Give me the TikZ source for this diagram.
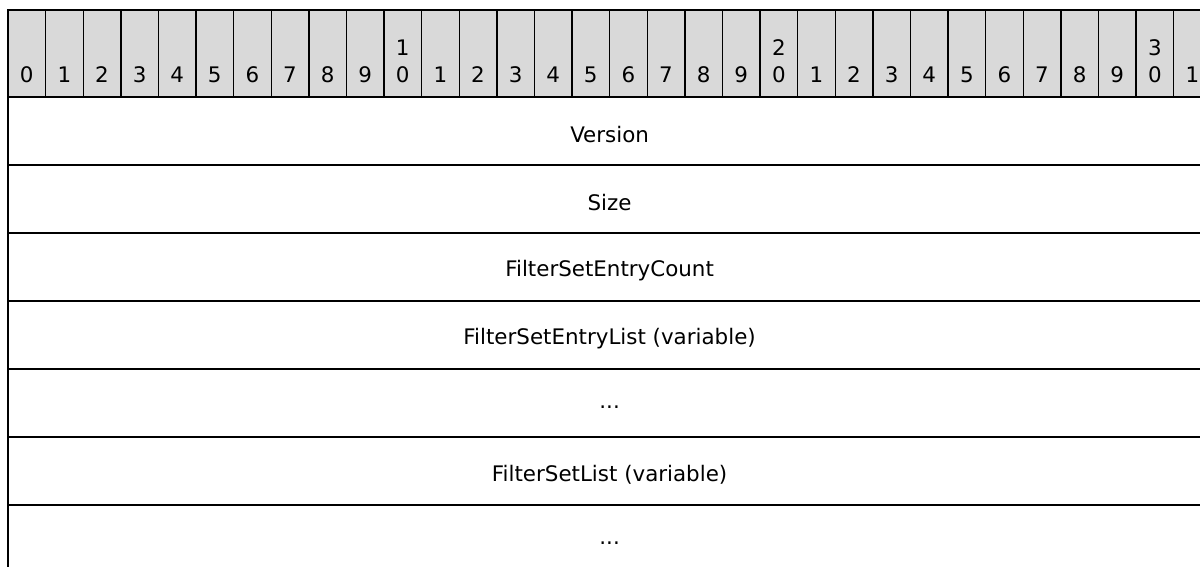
\documentclass[tikz,border=0pt]{standalone}
\usepackage{fontspec}
\setmainfont{DejaVu Sans}
\usetikzlibrary{positioning}
\definecolor{headgray}{HTML}{D9D9D9}

\begin{document}
\begin{tikzpicture}[
  bitcell/.style={rectangle, draw, fill=headgray, line width=0.7pt, minimum width=18.8pt, minimum height=43.5pt, inner sep=0pt, outer sep=0pt, anchor=north west},
  bitnum/.style={inner sep=0pt, align=center, text depth=0pt, font=\fontsize{10.7}{13.5}\selectfont},
  field/.style={rectangle, minimum width=601.6pt, minimum height=34pt, inner sep=0pt, outer sep=0pt, font=\fontsize{10.7}{12}\selectfont},
  fieldtext/.style={inner sep=0pt, yshift=-2pt, font=\fontsize{10.7}{12}\selectfont},
  rule/.style={line width=0.7pt}
]
\useasboundingbox (0,0) rectangle (600pt,-283.5pt);
\clip (0,0) rectangle (600pt,-283.5pt);

% header with bit numbers
\foreach \i in {0,...,31}{
  \pgfmathtruncatemacro{\ones}{mod(\i,10)}
  \pgfmathtruncatemacro{\tens}{\i/10}
  \node[bitcell] (c\i) at (4pt+\i*18.8pt,-5pt) {};
  \ifnum\ones=0 \ifnum\i>0
    \node[bitnum, above=7pt of c\i.south] (n\i) {\tens\\\ones};
  \else
    \node[bitnum, above=7pt of c\i.south] (n\i) {\ones};
  \fi\else
    \node[bitnum, above=7pt of c\i.south] (n\i) {\ones};
  \fi
}

% fields (boxes, then their labels)
\node[field, anchor=north west] (version) at (c0.south west) {};
\node[field, below=0pt of version] (size) {};
\node[field, below=0pt of size] (count) {};
\node[field, below=0pt of count] (entrylist) {};
\node[field, below=0pt of entrylist] (dotsA) {};
\node[field, below=0pt of dotsA] (setlist) {};
\node[field, below=0pt of setlist] (dotsB) {};

\node[fieldtext] (tversion) at (version) {Version};
\node[fieldtext] (tsize) at (size) {Size};
\node[fieldtext] (tcount) at (count) {FilterSetEntryCount};
\node[fieldtext] (tentrylist) at (entrylist) {FilterSetEntryList (variable)};
\node[fieldtext] (tdotsA) at (dotsA) {...};
\node[fieldtext] (tsetlist) at (setlist) {FilterSetList (variable)};
\node[fieldtext] (tdotsB) at (dotsB) {...};

\foreach \f in {version,size,count,entrylist,dotsA,setlist}
  \draw[rule] (\f.south west) -- (\f.south east);
\draw[rule] (c0.south west) -- (dotsB.south west);

\end{tikzpicture}
\end{document}
